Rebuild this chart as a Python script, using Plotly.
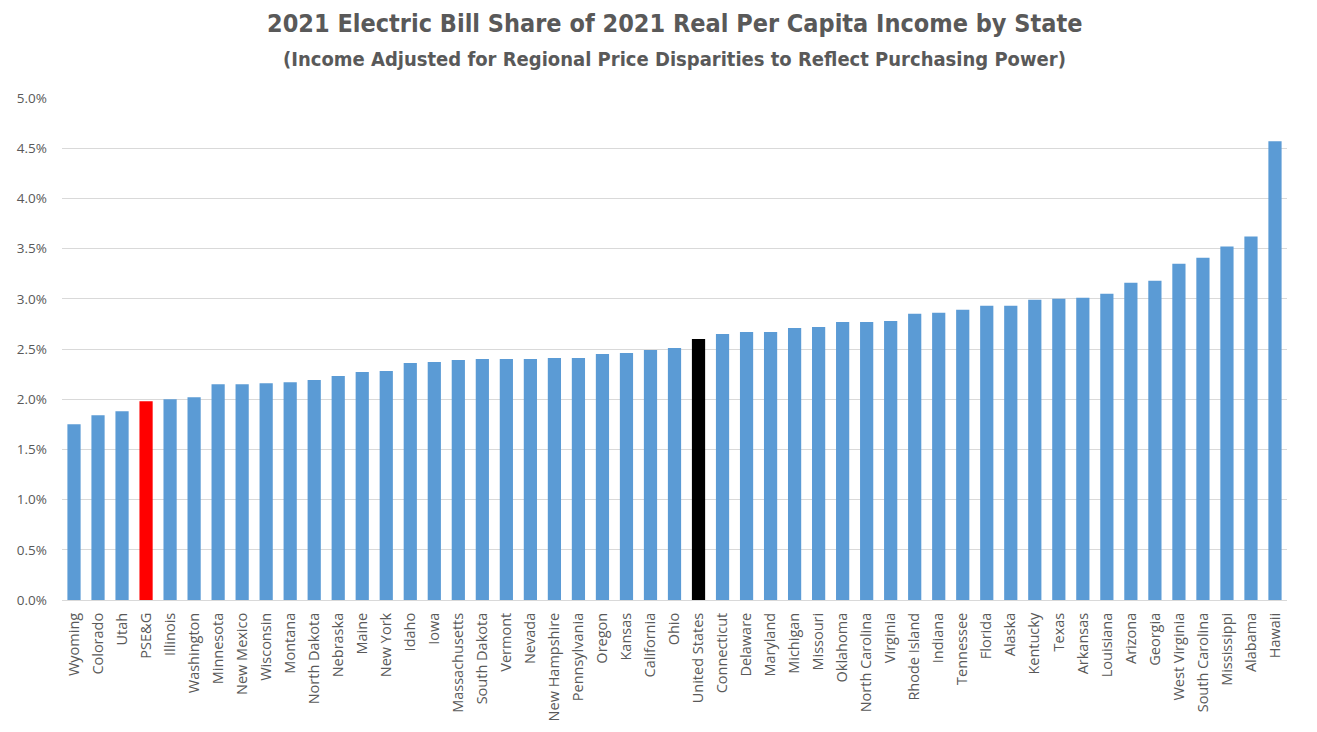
import plotly.graph_objects as go

states = ["Wyoming", "Colorado", "Utah", "PSE&G", "Illinois", "Washington", "Minnesota",
          "New Mexico", "Wisconsin", "Montana", "North Dakota", "Nebraska", "Maine",
          "New York", "Idaho", "Iowa", "Massachusetts", "South Dakota", "Vermont", "Nevada",
          "New Hampshire", "Pennsylvania", "Oregon", "Kansas", "California", "Ohio",
          "United States", "Connecticut", "Delaware", "Maryland", "Michigan", "Missouri",
          "Oklahoma", "North Carolina", "Virginia", "Rhode Island", "Indiana", "Tennessee",
          "Florida", "Alaska", "Kentucky", "Texas", "Arkansas", "Louisiana", "Arizona",
          "Georgia", "West Virginia", "South Carolina", "Mississippi", "Alabama", "Hawaii"]

share_pct = [1.75, 1.84, 1.88, 1.98, 2.00, 2.02, 2.15,
             2.15, 2.16, 2.17, 2.19, 2.23, 2.27,
             2.28, 2.36, 2.37, 2.39, 2.40, 2.40, 2.40,
             2.41, 2.41, 2.45, 2.46, 2.49, 2.51,
             2.60, 2.65, 2.67, 2.67, 2.71, 2.72,
             2.77, 2.77, 2.78, 2.85, 2.86, 2.89,
             2.93, 2.93, 2.99, 3.00, 3.01, 3.05, 3.16,
             3.18, 3.35, 3.41, 3.52, 3.62, 4.57]

highlight = {"PSE&G": "#FF0000", "United States": "#000000"}
colors = [highlight.get(s, "#5B9BD5") for s in states]

fig = go.Figure(go.Bar(x=states, y=share_pct, marker=dict(color=colors, line=dict(width=0)),
                       hoverinfo="x+y"))

title_font = "Liberation Sans Narrow, DejaVu Sans Condensed, Arial Narrow, sans-serif"
fig.add_annotation(text="<b>2021 Electric Bill Share of 2021 Real Per Capita Income by State</b>",
                   xref="paper", yref="paper", x=0.5, y=1, xanchor="center", yanchor="bottom",
                   yshift=58, showarrow=False,
                   font=dict(family=title_font, size=25, color="#595959"))
fig.add_annotation(text="<b>(Income Adjusted for Regional Price Disparities to Reflect Purchasing Power)</b>",
                   xref="paper", yref="paper", x=0.5, y=1, xanchor="center", yanchor="bottom",
                   yshift=25, showarrow=False,
                   font=dict(family=title_font, size=20, color="#595959"))

fig.update_layout(
    width=1317, height=732,
    margin=dict(l=62, r=30, t=98, b=132),
    paper_bgcolor="white", plot_bgcolor="white",
    bargap=0.45, showlegend=False,
    font=dict(family="Open Sans, sans-serif", color="#595959"),
)
fig.update_xaxes(tickangle=-90, tickfont=dict(size=14.5, color="#595959"),
                 showline=True, linecolor="#d9d9d9", linewidth=1, ticks="",
                 showgrid=False, ticklabelstandoff=6)
fig.update_yaxes(range=[0, 5], dtick=0.5, tickformat=".1f", ticksuffix="%",
                 tickfont=dict(size=13.5, color="#595959"),
                 showgrid=True, gridcolor="#d9d9d9", gridwidth=1,
                 zeroline=False, ticks="", ticklabelstandoff=14)

fig.write_html("out.html")
